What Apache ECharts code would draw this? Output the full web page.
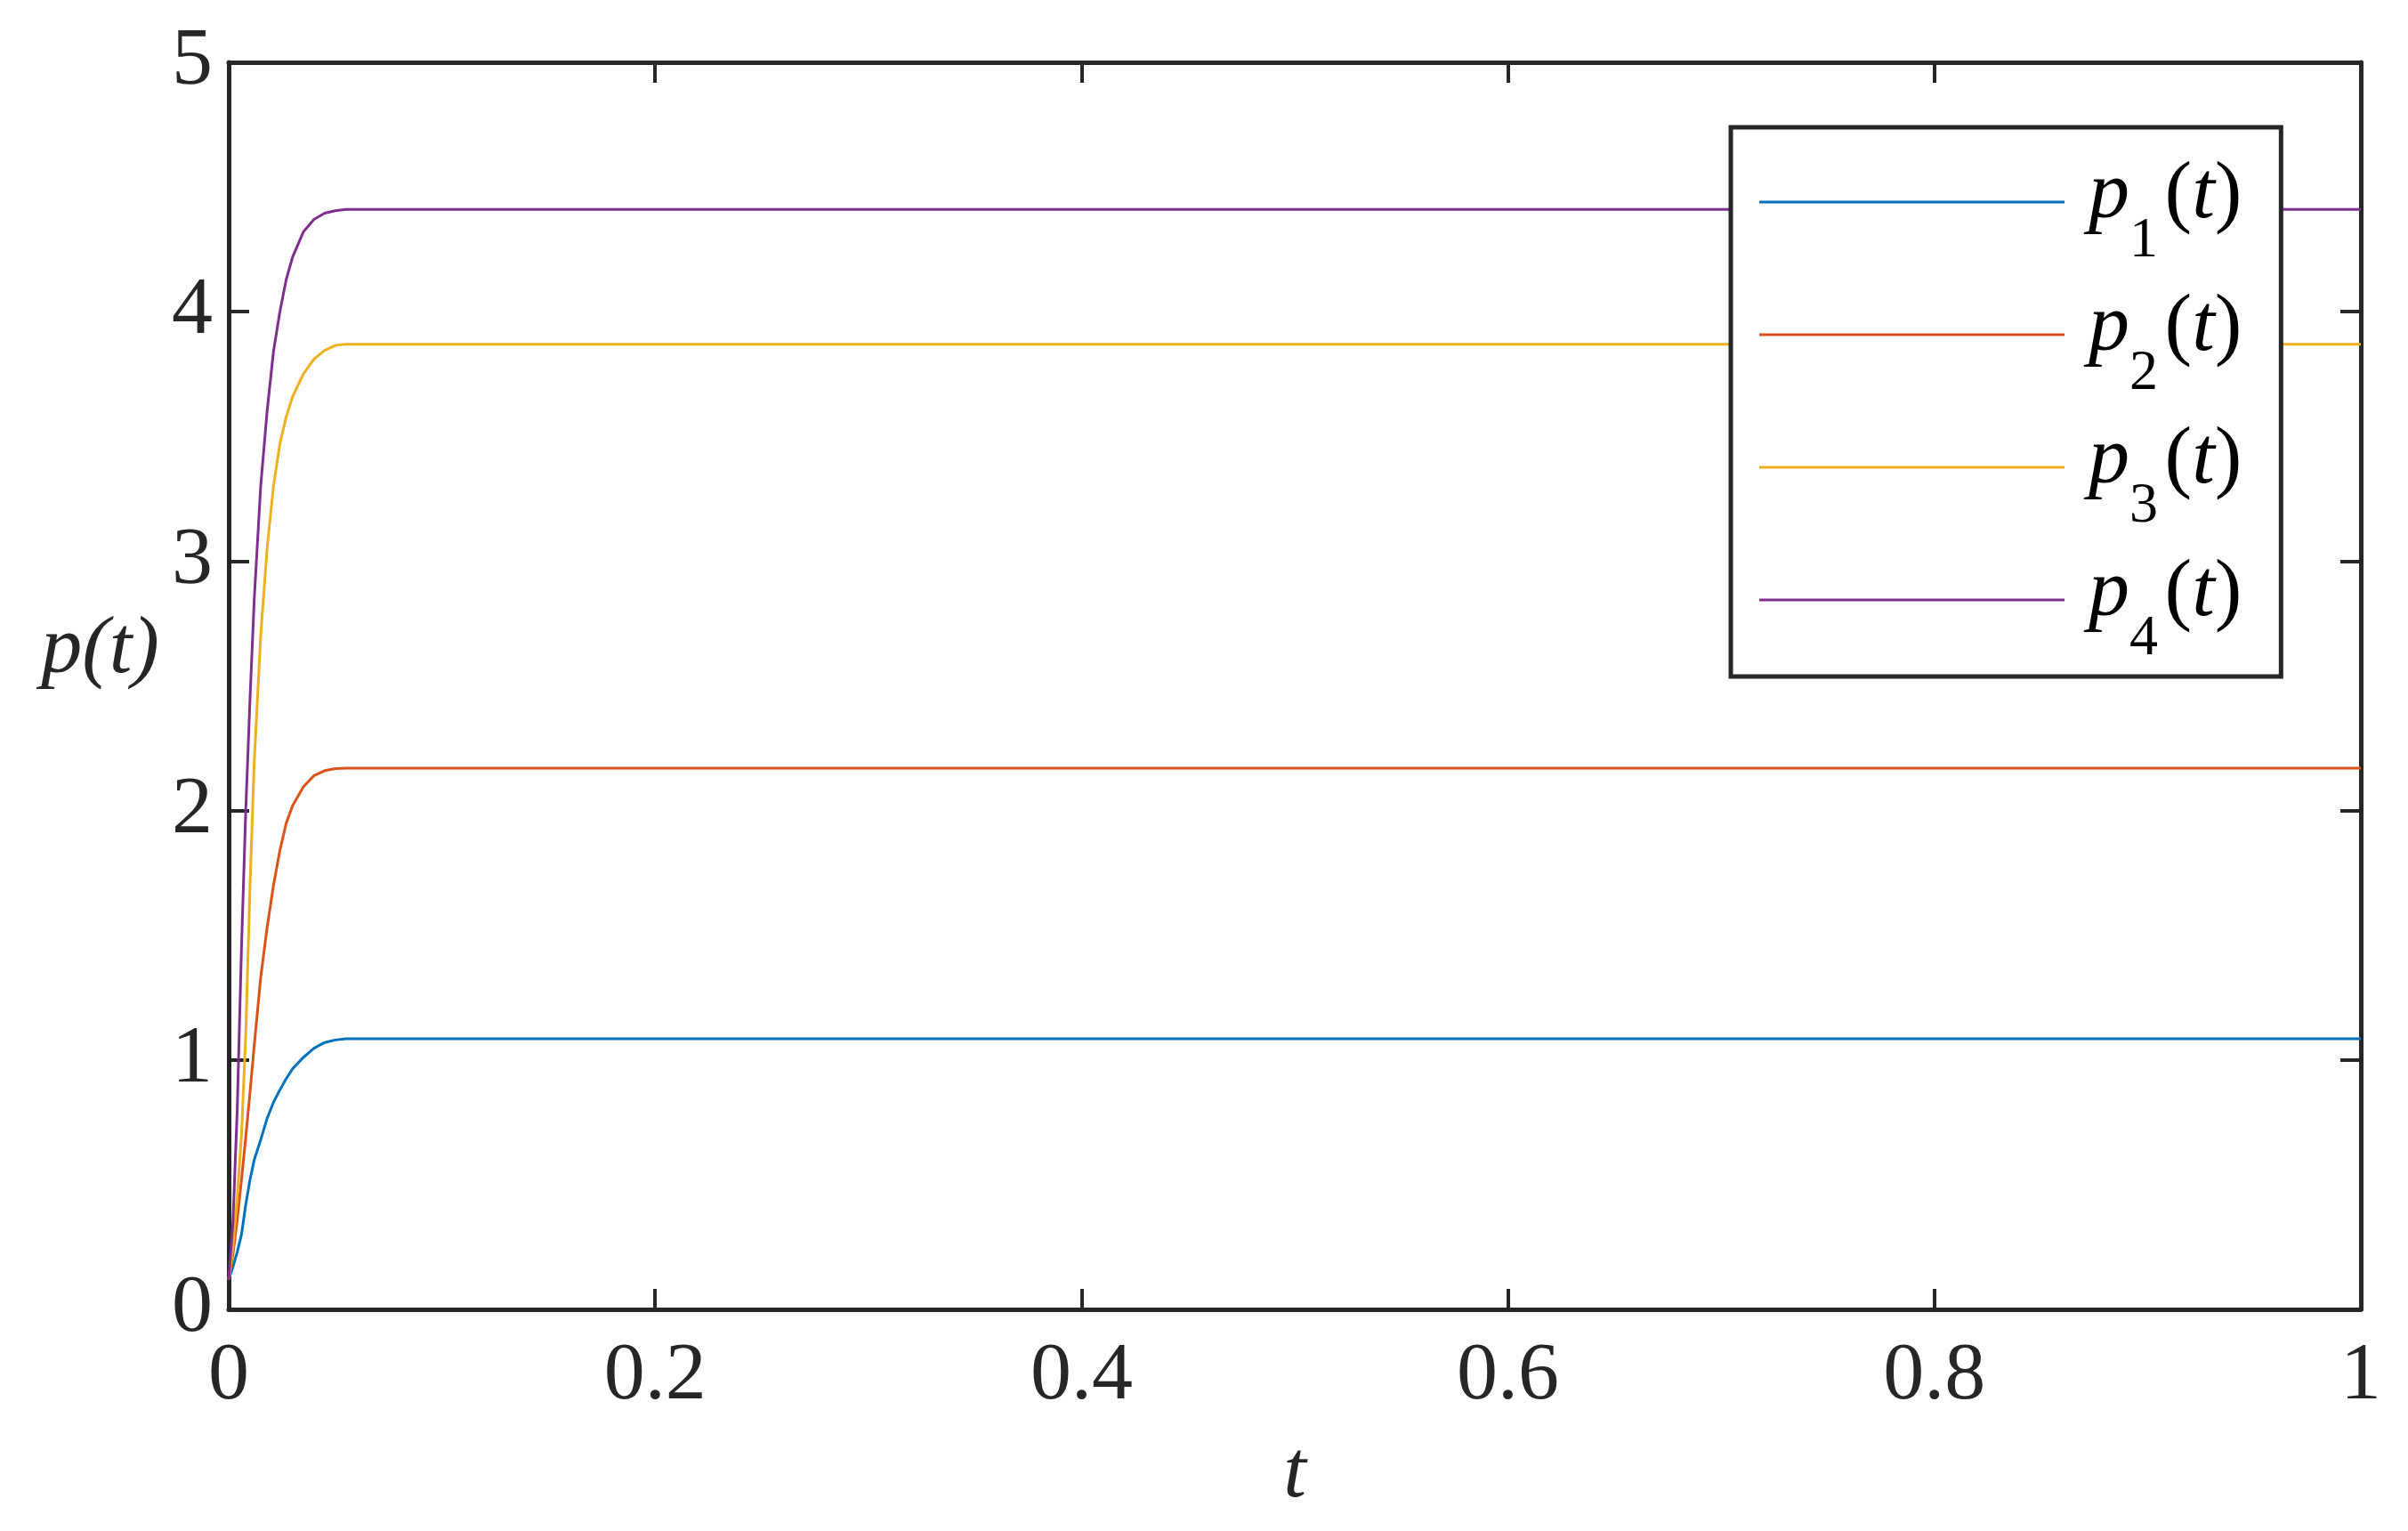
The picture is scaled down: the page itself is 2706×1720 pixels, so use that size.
<!DOCTYPE html>
<html>
<head>
<meta charset="utf-8">
<script src="https://cdn.jsdelivr.net/npm/echarts@6/dist/echarts.min.js"></script>
<style>
html,body{margin:0;padding:0;background:#fff;}
#chart{width:2706px;height:1720px;}
</style>
</head>
<body>
<div id="chart"></div>
<script>
const tVals = [0,0.002,0.004,0.006,0.008,0.01,0.012,0.015,0.018,0.021,0.024,0.027,0.03,0.035,0.04,0.045,0.05,0.055,0.06,0.1,0.2,0.3,0.4,0.5,0.6,0.7,0.8,0.9,1.0];
const p1 = [0.12,0.17,0.23,0.30,0.42,0.52,0.60,0.68,0.765,0.83,0.88,0.925,0.965,1.01,1.047,1.07,1.08,1.085,1.085,1.085,1.085,1.085,1.085,1.085,1.085,1.085,1.085,1.085,1.085];
const p2 = [0.12,0.22,0.36,0.52,0.69,0.87,1.06,1.33,1.53,1.70,1.84,1.95,2.02,2.095,2.14,2.16,2.168,2.17,2.17,2.17,2.17,2.17,2.17,2.17,2.17,2.17,2.17,2.17,2.17];
const p3 = [0.12,0.25,0.45,0.70,1.10,1.70,2.20,2.70,3.05,3.30,3.47,3.58,3.66,3.75,3.81,3.845,3.865,3.87,3.87,3.87,3.87,3.87,3.87,3.87,3.87,3.87,3.87,3.87,3.87];
const p4 = [0.12,0.35,0.80,1.45,2.00,2.45,2.85,3.30,3.60,3.84,4.00,4.13,4.22,4.32,4.37,4.395,4.405,4.41,4.41,4.41,4.41,4.41,4.41,4.41,4.41,4.41,4.41,4.41,4.41];
const seriesNames = ['p1','p2','p3','p4'];
const seriesSubs = ['1','2','3','4'];
const seriesColors = ['#0072BD','#D95319','#EDB120','#7E2F8E'];
const xTicks = {min:0, max:1, interval:0.2};
const yTicks = {min:0, max:5, interval:1};

const allSeries = [p1,p2,p3,p4];
const AX = '#262626';
const FONT = 'Liberation Serif';
const FS = 92;

function zip(xs, ys){ return xs.map((x,i)=>[x, ys[i]]); }

const axisCommon = {
  axisLine:{show:true, onZero:false, lineStyle:{color:AX, width:5}},
  axisTick:{show:true, inside:true, length:23, lineStyle:{color:AX, width:4}},
  splitLine:{show:false}
};

const chart = echarts.init(document.getElementById('chart'), null, {renderer:'canvas'});
chart.setOption({
  animation:false,
  backgroundColor:'#ffffff',
  grid:{left:257, top:70, width:2396, height:1401, containLabel:false},
  xAxis:[
    Object.assign({type:'value', position:'bottom', min:xTicks.min, max:xTicks.max, interval:xTicks.interval,
      name:'t', nameLocation:'middle', nameGap:140,
      nameTextStyle:{fontFamily:FONT, fontStyle:'italic', fontSize:FS, color:AX},
      axisLabel:{show:true, margin:30, fontFamily:FONT, fontSize:FS, color:AX}}, axisCommon),
    Object.assign({type:'value', position:'top', min:xTicks.min, max:xTicks.max, interval:xTicks.interval,
      axisLabel:{show:false}}, axisCommon)
  ],
  yAxis:[
    Object.assign({type:'value', position:'left', min:yTicks.min, max:yTicks.max, interval:yTicks.interval,
      name:'p(t)', nameLocation:'middle', nameGap:78, nameRotate:0,
      nameTextStyle:{fontFamily:FONT, fontStyle:'italic', fontSize:FS, color:AX, verticalAlign:'bottom', lineHeight:80},
      axisLabel:{show:true, margin:18, fontFamily:FONT, fontSize:FS, color:AX}}, axisCommon),
    Object.assign({type:'value', position:'right', min:yTicks.min, max:yTicks.max, interval:yTicks.interval,
      axisLabel:{show:false}}, axisCommon)
  ],
  legend:{
    show:true, orient:'vertical', left:1945, top:143,
    data:seriesNames.map(n => ({name:n, icon:'rect'})),
    itemWidth:343, itemHeight:3, itemGap:20,
    backgroundColor:'#ffffff', borderColor:AX, borderWidth:5, borderRadius:0,
    padding:[31,44,10,32],
    formatter:function(name){
      const i = seriesNames.indexOf(name);
      return '{i|p}{s|' + seriesSubs[i] + '}{g| }{n|(}{i|t}{n|)}';
    },
    textStyle:{
      padding:[0,0,0,22],
      fontFamily:FONT, fontSize:FS,
      rich:{
        i:{fontFamily:FONT, fontStyle:'italic', fontSize:FS, padding:[23,0,23,0], verticalAlign:'top', color:'#000'},
        n:{fontFamily:FONT, fontSize:FS, padding:[23,0,23,0], verticalAlign:'top', color:'#000'},
        g:{fontFamily:FONT, fontSize:30, padding:[61,0,61,0], verticalAlign:'top', color:'#000'},
        s:{fontFamily:FONT, fontSize:64, verticalAlign:'bottom', color:'#000'}
      }
    }
  },
  series: allSeries.map((arr, i) => ({
    name: seriesNames[i],
    type:'line',
    xAxisIndex:0, yAxisIndex:0,
    data: zip(tVals, arr),
    symbol:'none',
    showSymbol:false,
    smooth:false,
    lineStyle:{color:seriesColors[i], width:3},
    itemStyle:{color:seriesColors[i]}
  }))
});
</script>
</body>
</html>
